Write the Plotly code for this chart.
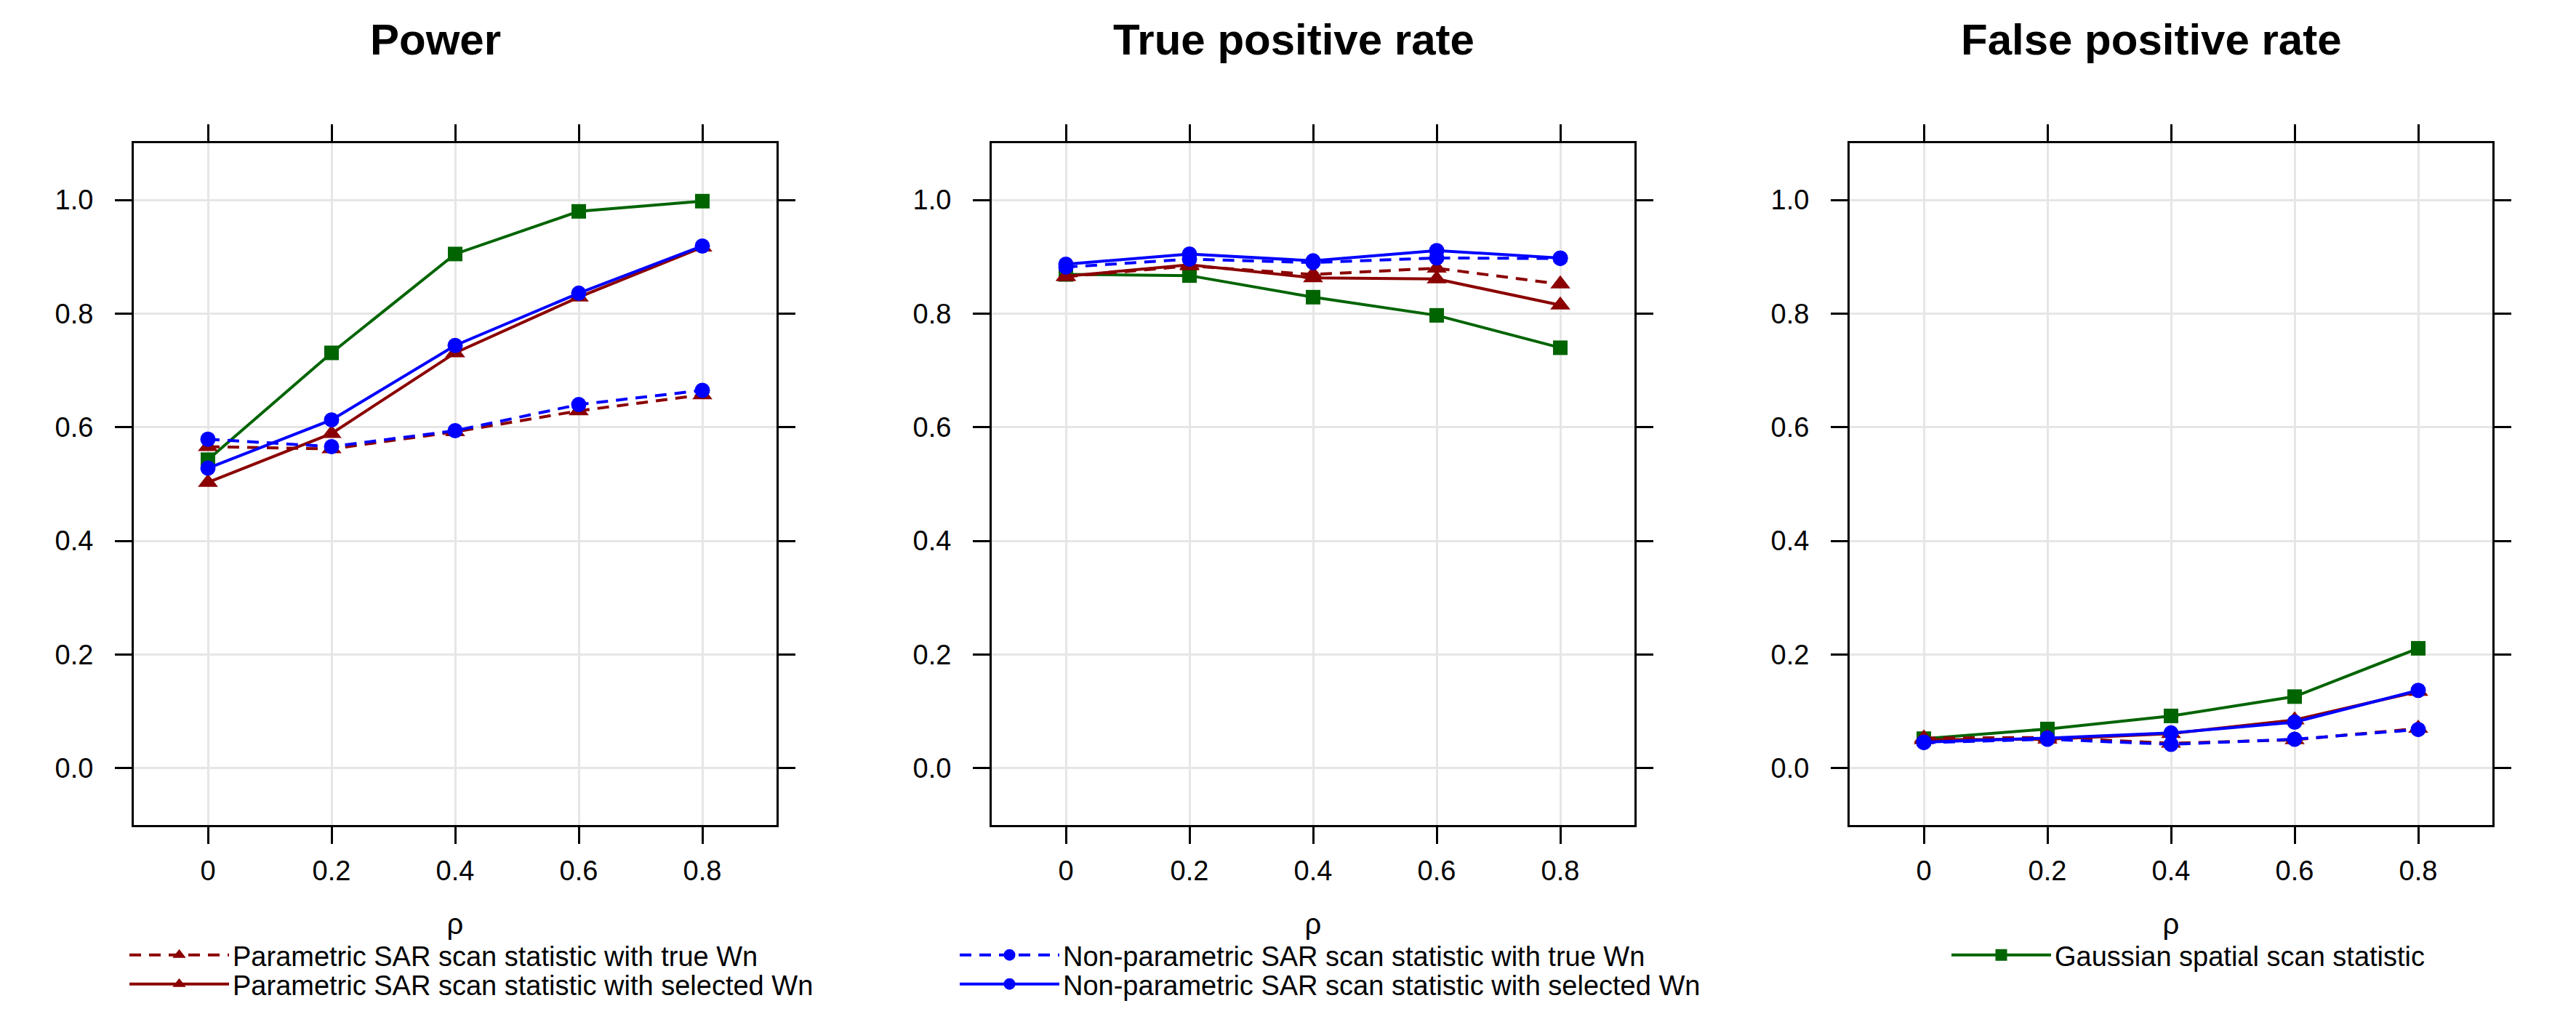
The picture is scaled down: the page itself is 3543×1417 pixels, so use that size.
import plotly.graph_objects as go

W, H = 3543, 1417

rho = [0, 0.2, 0.4, 0.6, 0.8]
rho_labels = ["0", "0.2", "0.4", "0.6", "0.8"]
y_ticks = [0.0, 0.2, 0.4, 0.6, 0.8, 1.0]

panel_titles = ["Power", "True positive rate", "False positive rate"]

power_par_true = [0.566, 0.562, 0.592, 0.629, 0.657]
power_par_sel = [0.503, 0.589, 0.731, 0.829, 0.917]
power_np_true = [0.579, 0.566, 0.594, 0.640, 0.665]
power_np_sel = [0.528, 0.613, 0.744, 0.836, 0.919]
power_gauss = [0.543, 0.731, 0.905, 0.980, 0.998]

tpr_par_true = [0.865, 0.884, 0.869, 0.880, 0.852]
tpr_par_sel = [0.866, 0.886, 0.863, 0.861, 0.815]
tpr_np_true = [0.882, 0.896, 0.890, 0.898, 0.897]
tpr_np_sel = [0.887, 0.905, 0.893, 0.911, 0.898]
tpr_gauss = [0.869, 0.867, 0.829, 0.797, 0.740]

fpr_par_true = [0.053, 0.054, 0.044, 0.050, 0.070]
fpr_par_sel = [0.050, 0.051, 0.061, 0.085, 0.135]
fpr_np_true = [0.045, 0.051, 0.042, 0.051, 0.068]
fpr_np_sel = [0.046, 0.053, 0.062, 0.081, 0.137]
fpr_gauss = [0.052, 0.069, 0.092, 0.126, 0.211]

series_names = [
    "Gaussian spatial scan statistic",
    "Parametric SAR scan statistic with true Wn",
    "Parametric SAR scan statistic with selected Wn",
    "Non-parametric SAR scan statistic with true Wn",
    "Non-parametric SAR scan statistic with selected Wn",
]
panels = [
    [power_gauss, power_par_true, power_par_sel, power_np_true, power_np_sel],
    [tpr_gauss, tpr_par_true, tpr_par_sel, tpr_np_true, tpr_np_sel],
    [fpr_gauss, fpr_par_true, fpr_par_sel, fpr_np_true, fpr_np_sel],
]

DARKRED = "#8B0000"
BLUE = "#0000FF"
GREEN = "#006400"
DASH = "16px,11px"
styles = [
    dict(color=GREEN, dash="solid", symbol="square", size=20, legend="legend5"),
    dict(color=DARKRED, dash=DASH, symbol="triangle-up", size=24, legend="legend"),
    dict(color=DARKRED, dash="solid", symbol="triangle-up", size=24, legend="legend2"),
    dict(color=BLUE, dash=DASH, symbol="circle", size=21, legend="legend3"),
    dict(color=BLUE, dash="solid", symbol="circle", size=21, legend="legend4"),
]

FONT = "Liberation Sans, Arial, sans-serif"

# panel frames in pixels
frames_x = [(176, 1060), (1356, 2240), (2536, 3420)]
frame_top, frame_bottom = 189, 1127

fig = go.Figure()

for p, data in enumerate(panels):
    ax = "" if p == 0 else str(p + 1)
    for s, (vals, st) in enumerate(zip(data, styles)):
        fig.add_trace(go.Scatter(
            x=rho, y=vals, mode="lines+markers",
            name=series_names[s],
            xaxis="x" + ax, yaxis="y" + ax,
            line=dict(color=st["color"], width=4, dash=st["dash"]),
            marker=dict(symbol=st["symbol"], size=st["size"], color=st["color"],
                        line=dict(width=0)),
            legendgroup=series_names[s],
            showlegend=(p == 0),
            legend=st["legend"],
        ))

layout = dict(
    width=W, height=H, autosize=False,
    margin=dict(l=0, r=0, t=0, b=0),
    paper_bgcolor="white", plot_bgcolor="white",
    font=dict(family=FONT, size=38, color="black"),
    annotations=[],
)

for p in range(3):
    ax = "" if p == 0 else str(p + 1)
    x0, x1 = frames_x[p]
    common = dict(
        showline=True, linecolor="black", linewidth=3, mirror="ticks",
        ticks="outside", ticklen=23, tickwidth=3, tickcolor="black",
        showgrid=True, gridcolor="#E6E6E6", gridwidth=3, zeroline=False,
        tickfont=dict(family=FONT, size=38, color="black"),
    )
    layout["xaxis" + ax] = dict(
        common,
        domain=[x0 / W, x1 / W],
        range=[-0.12, 0.92],
        tickvals=rho, ticktext=rho_labels,
        anchor="y" + ax,
        ticklabelstandoff=4,
        title=dict(text="ρ", font=dict(family=FONT, size=40), standoff=40),
    )
    layout["yaxis" + ax] = dict(
        common,
        domain=[1 - frame_bottom / H, 1 - frame_top / H],
        range=[-0.1, 1.1],
        tickvals=y_ticks, tickformat=".1f",
        anchor="x" + ax,
        ticklabelstandoff=22,
    )
    layout["annotations"].append(dict(
        text="<b>" + panel_titles[p] + "</b>",
        x=((x0 + x1) / 2 - 27) / W, y=1 - 46 / H,
        xref="paper", yref="paper", xanchor="center", yanchor="middle",
        showarrow=False, font=dict(family=FONT, size=60, color="black"),
    ))

legend_common = dict(
    bgcolor="rgba(0,0,0,0)", borderwidth=0,
    font=dict(family=FONT, size=38, color="black"),
    yanchor="middle", xanchor="left", itemwidth=137,
    tracegroupgap=0,
)
TEXT_OFFSET = 155
row1, row2 = 1306, 1346
layout["legend"] = dict(legend_common, x=(320 - TEXT_OFFSET) / W, y=1 - row1 / H)
layout["legend2"] = dict(legend_common, x=(320 - TEXT_OFFSET) / W, y=1 - row2 / H)
layout["legend3"] = dict(legend_common, x=(1462 - TEXT_OFFSET) / W, y=1 - row1 / H)
layout["legend4"] = dict(legend_common, x=(1462 - TEXT_OFFSET) / W, y=1 - row2 / H)
layout["legend5"] = dict(legend_common, x=(2826 - TEXT_OFFSET) / W, y=1 - row1 / H)

fig.update_layout(**layout)
fig.write_html("out.html")
